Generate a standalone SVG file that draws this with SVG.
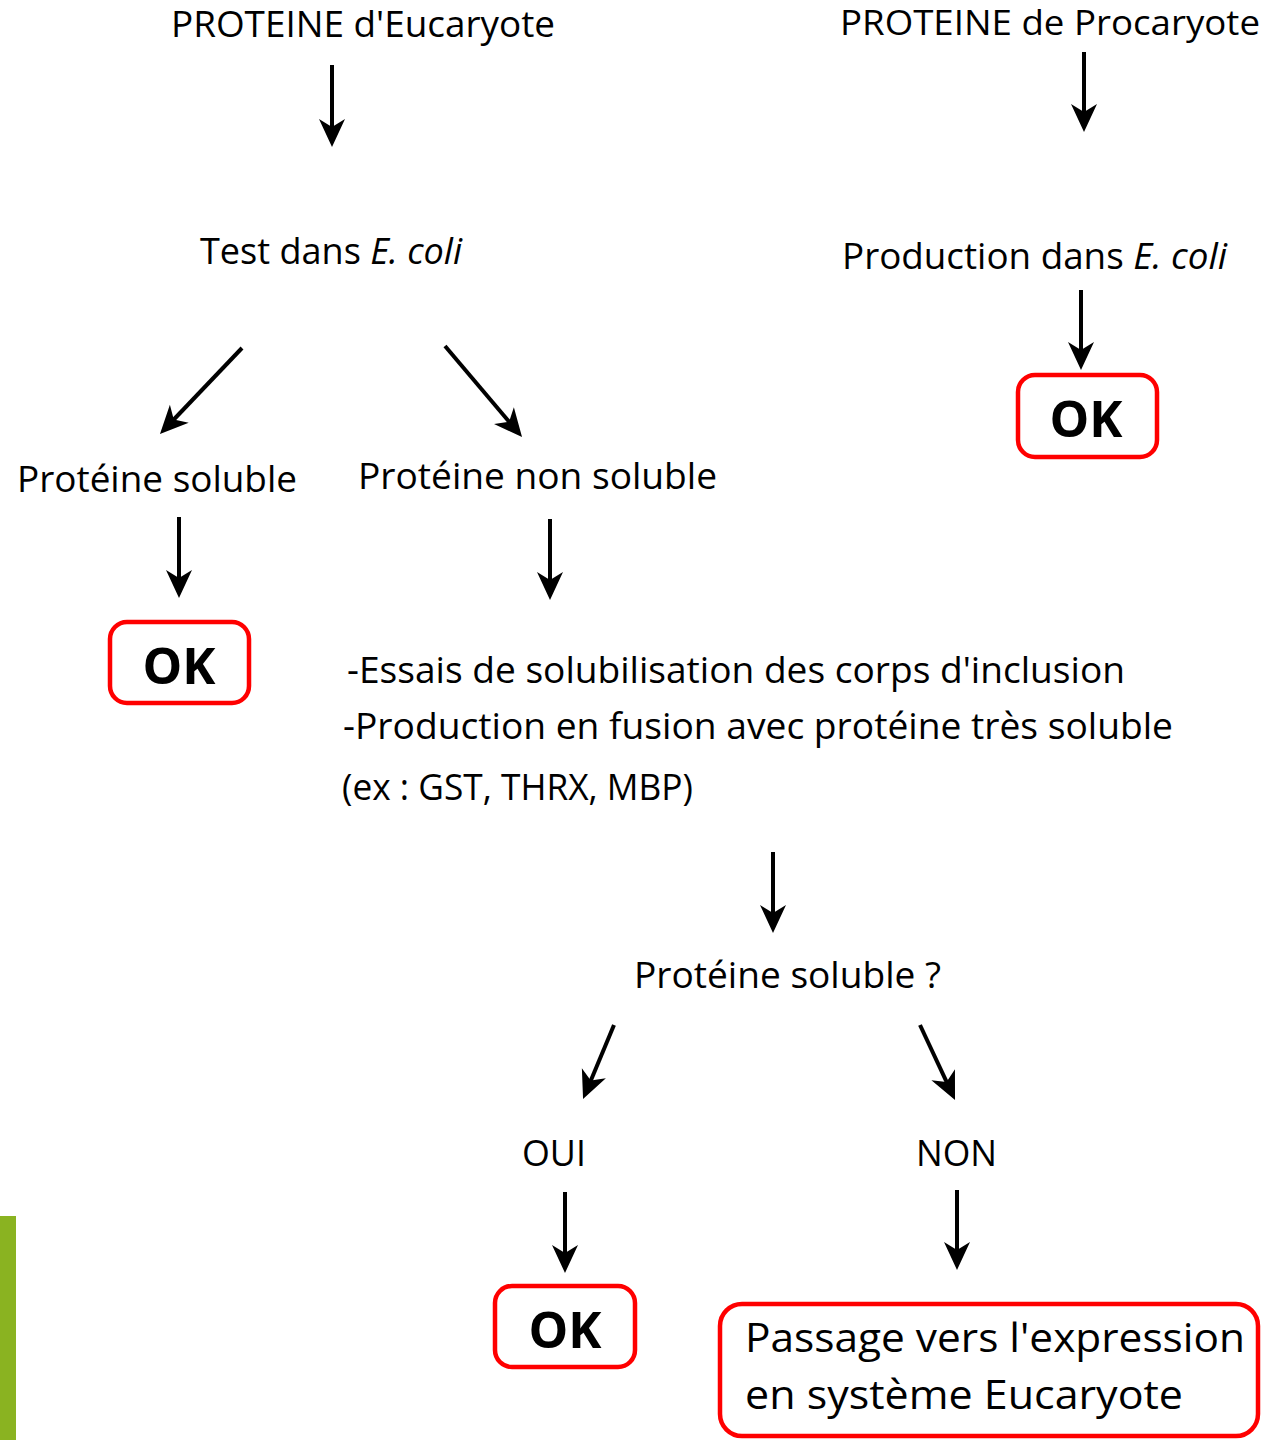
<svg xmlns="http://www.w3.org/2000/svg" width="1263" height="1440" viewBox="0 0 1263 1440">
<defs>
<marker id="ah" markerUnits="userSpaceOnUse" viewBox="-30 -14 32 28" refX="-18" refY="0" markerWidth="32" markerHeight="28" orient="auto">
<path d="M0,0 L-28,-13 L-20,0 L-28,13 Z" fill="#000"/>
</marker>
</defs>
<style>
.t{font-family:"Open Sans","Noto Sans","Liberation Sans",sans-serif;font-size:36px;fill:#000}
.ok{font-family:"Open Sans","Liberation Sans",sans-serif;font-weight:bold;font-size:50px;fill:#000;text-anchor:middle}
.box{fill:#fff;stroke:#ff0000;stroke-width:4.5}
.c line{stroke:#000;stroke-width:4;fill:none;marker-end:url(#ah)}
</style>
<rect width="1263" height="1440" fill="#fff"/>
<rect x="0" y="1216" width="16" height="224" fill="#8ab321"/>
<g id="n1"><text class="t" x="171" y="37" textLength="384" lengthAdjust="spacingAndGlyphs">PROTEINE d'Eucaryote</text></g>
<g id="n2"><text class="t" style="font-size:35px" x="840" y="35" textLength="420" lengthAdjust="spacingAndGlyphs">PROTEINE de Procaryote</text></g>
<g id="n3"><text class="t" x="200" y="264" textLength="262" lengthAdjust="spacingAndGlyphs">Test dans <tspan font-style="italic">E. coli</tspan></text></g>
<g id="n4"><text class="t" x="842" y="269" textLength="385" lengthAdjust="spacingAndGlyphs">Production dans <tspan font-style="italic">E. coli</tspan></text></g>
<g id="n5"><rect class="box" x="1018" y="375" width="139" height="82" rx="17"/><text class="ok" x="1086" y="437">OK</text></g>
<g id="n6"><text class="t" x="17" y="492" textLength="280" lengthAdjust="spacingAndGlyphs">Protéine soluble</text></g>
<g id="n7"><text class="t" x="358" y="489" textLength="359" lengthAdjust="spacingAndGlyphs">Protéine non soluble</text></g>
<g id="n8"><rect class="box" x="110" y="622" width="139" height="81" rx="17"/><text class="ok" x="179" y="684">OK</text></g>
<g id="n9">
<text class="t" x="347" y="683" textLength="778" lengthAdjust="spacingAndGlyphs">-Essais de solubilisation des corps d'inclusion</text>
<text class="t" x="343" y="739" textLength="830" lengthAdjust="spacingAndGlyphs">-Production en fusion avec protéine très soluble</text>
<text class="t" x="342" y="800" textLength="351" lengthAdjust="spacingAndGlyphs">(ex : GST, THRX, MBP)</text>
</g>
<g id="n10"><text class="t" x="634" y="988" textLength="307" lengthAdjust="spacingAndGlyphs">Protéine soluble ?</text></g>
<g id="n11"><text class="t" x="522" y="1166" textLength="64" lengthAdjust="spacingAndGlyphs">OUI</text></g>
<g id="n12"><text class="t" x="916" y="1166" textLength="81" lengthAdjust="spacingAndGlyphs">NON</text></g>
<g id="n13"><rect class="box" x="495" y="1286" width="140" height="81" rx="17"/><text class="ok" x="565" y="1348">OK</text></g>
<g id="n14"><rect class="box" x="720" y="1304" width="538" height="132" rx="22"/>
<text class="t" style="font-size:41px" x="745" y="1352" textLength="500" lengthAdjust="spacingAndGlyphs">Passage vers l'expression</text>
<text class="t" style="font-size:41px" x="745" y="1409" textLength="438" lengthAdjust="spacingAndGlyphs">en système Eucaryote</text>
</g>
<g id="connectors" class="c">
<line x1="332" y1="65" x2="332" y2="129"/>
<line x1="1084" y1="52" x2="1084" y2="114"/>
<line x1="1081" y1="290" x2="1081" y2="352"/>
<line x1="242" y1="348" x2="172.4" y2="421"/>
<line x1="445" y1="346" x2="510.4" y2="423.3"/>
<line x1="179" y1="517" x2="179" y2="580"/>
<line x1="550" y1="519" x2="550" y2="582"/>
<line x1="773" y1="852" x2="773" y2="915"/>
<line x1="614" y1="1025" x2="590" y2="1082.4"/>
<line x1="920" y1="1025" x2="947.4" y2="1083.7"/>
<line x1="565" y1="1192" x2="565" y2="1255"/>
<line x1="957" y1="1190" x2="957" y2="1252"/>
</g>
</svg>
